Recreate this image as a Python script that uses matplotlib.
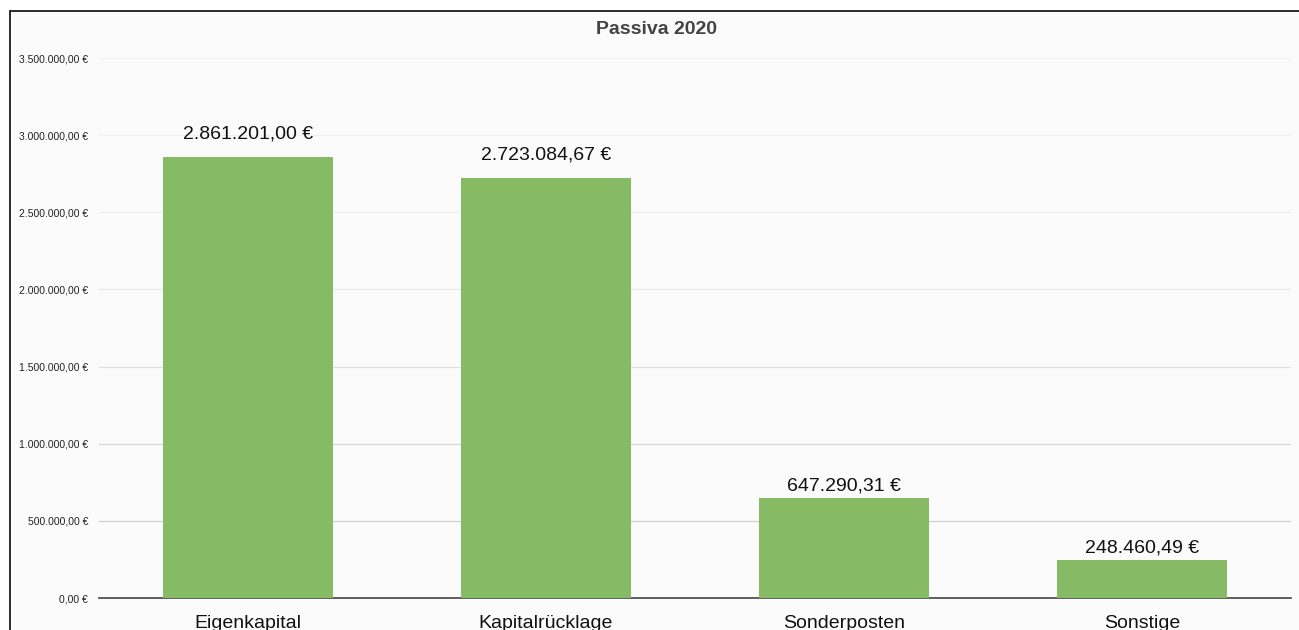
import matplotlib
matplotlib.use('Agg')
import matplotlib.pyplot as plt
from matplotlib.patches import Rectangle
import numpy as np

plt.rcParams['font.family'] = ['Liberation Sans', 'DejaVu Sans']

categories = ['Eigenkapital', 'Kapitalrücklage', 'Sonderposten', 'Sonstige']
values = [2861201.00, 2723084.67, 647290.31, 248460.49]
yticks = [0, 500000, 1000000, 1500000, 2000000, 2500000, 3000000, 3500000]
title = 'Passiva 2020'


def euro(v):
    s = f'{v:,.2f}'.replace(',', 'X').replace('.', ',').replace('X', '.')
    return s + ' €'


fig = plt.figure(figsize=(12.99, 6.30), dpi=100)
fig.patch.set_facecolor('white')

# frame around the chart (runs off right/bottom edge like the screenshot)
frame = Rectangle((10 / 1299, -0.05), 1.05, 1 - 11 / 630 + 0.05,
                  transform=fig.transFigure, facecolor='#fbfbfb',
                  edgecolor='#1a1a1a', linewidth=1.3, zorder=-5)
fig.patches.append(frame)

ax = fig.add_axes([99 / 1299, 1 - 598 / 630, 1192 / 1299, 540 / 630])
ax.set_facecolor('none')
ax.set_zorder(2)

x = np.arange(len(categories))
bars = ax.bar(x, values, width=0.57, color='#86ba64', zorder=3)
ax.set_xlim(-0.5, len(categories) - 0.5)
ax.set_ylim(0, 3500000)

for b, v in zip(bars, values):
    off = 10 if v > 1500000 else 2.5
    ax.annotate(euro(v), (b.get_x() + b.get_width() / 2, v),
                xytext=(0, off), textcoords='offset points',
                ha='center', va='bottom', fontsize=14, color='#111111')

ax.set_yticks(yticks)
ax.set_yticklabels([euro(t) for t in yticks], fontsize=7.5, color='#222222')
ax.set_xticks(x)
ax.set_xticklabels(categories, fontsize=14, color='#111111')
ax.tick_params(axis='both', length=0)
ax.tick_params(axis='x', pad=12)
ax.tick_params(axis='y', pad=8)

ax.grid(axis='y', zorder=0)
grid_cols = ['#d0d0d0', '#d0d0d0', '#d8d8d8', '#e2e2e2', '#e8e8e8', '#eeeeee', '#f1f1f1', '#f3f3f3']
for gl, c in zip(ax.get_ygridlines(), grid_cols):
    gl.set_color(c)
    gl.set_linewidth(0.9)

for s in ['top', 'right', 'left']:
    ax.spines[s].set_visible(False)
ax.spines['bottom'].set_color('#444444')
ax.spines['bottom'].set_linewidth(1.2)

fig.text(656 / 1299, 1 - 29 / 630, title, ha='center', va='center',
         fontsize=14, fontweight='bold', color='#444444', zorder=3)

fig.savefig('out.png', dpi=100)
